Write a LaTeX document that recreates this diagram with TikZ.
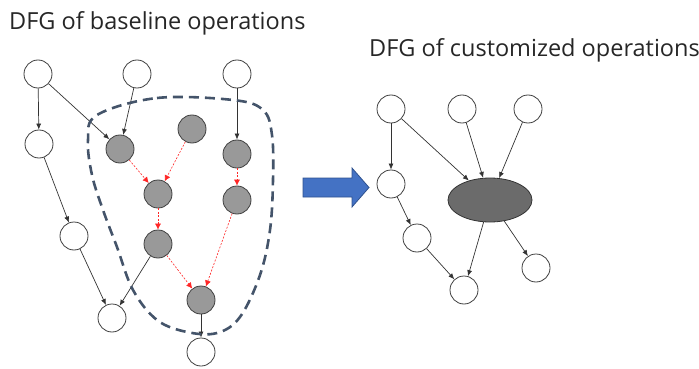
\documentclass[tikz,border=0pt]{standalone}
\usepackage{fontspec}
\setmainfont{Open Sans}
\usepackage{tikz}
\usetikzlibrary{arrows.meta, shapes.geometric}

\definecolor{lassocol}{HTML}{44546A}
\definecolor{bigarrow}{HTML}{4472C4}
\definecolor{bigarrowline}{HTML}{2F528F}

\tikzset{
  op/.style={circle, draw=black!75, fill=white, line width=0.8pt, minimum size=28pt, inner sep=0pt},
  baseop/.style={op, fill=black!40},
  customop/.style={ellipse, draw=black!80, fill=black!58, line width=0.8pt, minimum width=84pt, minimum height=44pt, inner sep=0pt},
  edge/.style={-{Latex[length=6pt,width=5pt]}, black!80, line width=0.7pt},
  fused/.style={-{Latex[length=6pt,width=6pt]}, red!85, dash pattern=on 2pt off 1.5pt, line width=0.6pt},
  title/.style={anchor=base west, font=\fontsize{23.5}{26}\selectfont, text=black!85, inner sep=0pt}
}

\begin{document}
\begin{tikzpicture}[x=1pt, y=-1pt]
      \useasboundingbox (0,0) rectangle (699,369);

      % 1. titles
      \node[title] (lefttitle) at (9,30) {DFG of baseline operations};
      \node[title] (righttitle) at (369,57) {DFG of customized operations};

      % 2. baseline DFG
      \node[op] (in1) at (38,74) {};
      \node[op] (in2) at (137,74) {};
      \node[op] (in3) at (237,74) {};
      \node[op] (b1) at (39,144) {};
      \node[op] (c1) at (74,236) {};
      \node[op] (d1) at (112,318) {};
      \node[op] (out1) at (201,352) {};

      \node[baseop] (g1) at (120,149) {};
      \node[baseop] (g2) at (192,129) {};
      \node[baseop] (g3) at (237,154) {};
      \node[baseop] (g4) at (158,194) {};
      \node[baseop] (g5) at (237,200) {};
      \node[baseop] (g6) at (158,244) {};
      \node[baseop] (g7) at (201,300) {};

      \draw[edge] (in1) -- (b1);
      \draw[edge] (in1) -- (g1);
      \draw[edge] (in2) -- (g1);
      \draw[edge] (in3) -- (g3);
      \draw[edge] (b1) -- (c1);
      \draw[edge] (c1) -- (d1);
      \draw[edge] (g6) -- (d1);
      \draw[edge] (g7) -- (out1);

      \draw[fused] (g1) -- (g4);
      \draw[fused] (g2) -- (g4);
      \draw[fused] (g3) -- (g5);
      \draw[fused] (g4) -- (g6);
      \draw[fused] (g6) -- (g7);
      \draw[fused] (g5) -- (g7);

      % 3. the fused region
      \draw[lassocol, line width=2.6pt, dash pattern=on 10pt off 6pt]
        plot[smooth cycle, tension=0.6] coordinates {
          (97,115) (157,98) (233,100) (263,110) (272,135) (273,180)
          (270,230) (260,275) (240,317) (217,333) (187,332) (157,320)
          (133,290) (117,247) (103,210) (92,175) (88,140)};

      % 4. big arrow
      \draw[bigarrowline, fill=bigarrow, line width=0.8pt]
        (303,178) -- (352,178) -- (352,168) -- (369,187.5)
        -- (352,207) -- (352,197) -- (303,197) -- cycle;

      % 5. customized DFG
      \node[op] (r1) at (391,109) {};
      \node[op] (r2) at (462,109) {};
      \node[op] (r3) at (528,109) {};
      \node[op] (r4) at (391,184) {};
      \node[op] (r5) at (417,238) {};
      \node[op] (r6) at (536,268) {};
      \node[op] (r7) at (464,290) {};
      \node[customop] (ce) at (490,200) {};

      \draw[edge] (r1) -- (r4);
      \draw[edge] (r1) -- (ce);
      \draw[edge] (r2) -- (ce);
      \draw[edge] (r3) -- (ce);
      \draw[edge] (r4) -- (r5);
      \draw[edge] (r5) -- (r7);
      \draw[edge] (ce) -- (r7);
      \draw[edge] (ce) -- (r6);
\end{tikzpicture}
\end{document}
